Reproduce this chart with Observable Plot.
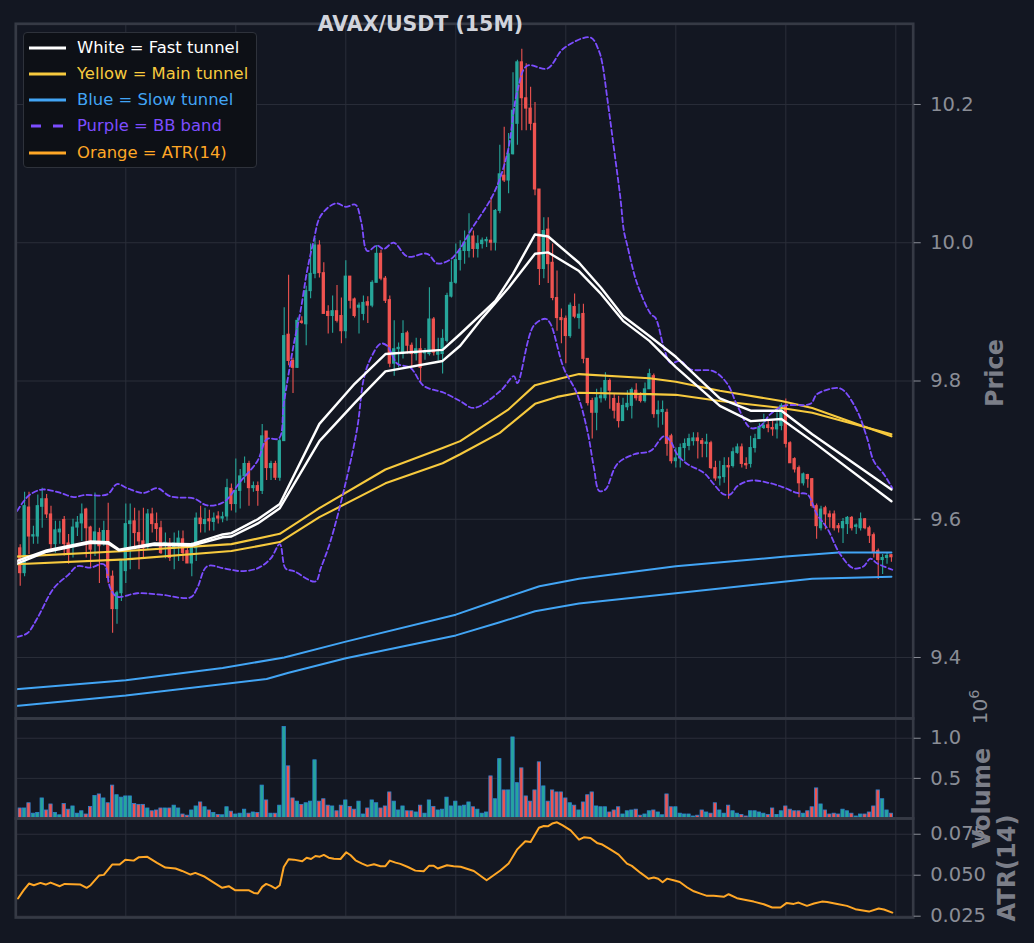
<!DOCTYPE html>
<html>
<head>
<meta charset="utf-8">
<script src="https://cdn.jsdelivr.net/npm/d3@7"></script>
<script src="https://cdn.jsdelivr.net/npm/@observablehq/plot@0.6"></script>
<style>
  html, body { margin: 0; padding: 0; background: #131722; }
  #wrap { position: relative; width: 1034px; height: 943px; background: #131722; overflow: hidden; font-family: "DejaVu Sans", sans-serif; }
  .ov { position: absolute; white-space: nowrap; }
  .rot { transform: translate(-50%, -50%) rotate(-90deg); }
  .ylab { font-weight: bold; font-size: 24px; color: #7b7e88; }
  #title { left: 420.5px; top: 24px; transform: translate(-50%, -50%); font-weight: bold; font-size: 20.5px; color: #d1d4dc; }
  #legend { left: 23px; top: 32px; width: 234px; height: 136px; background: #0d1016; border: 1px solid #2e323b; border-radius: 4px; box-sizing: border-box; }
  .lrow { position: absolute; left: 0; height: 20px; font-size: 16.4px; line-height: 20px; }
  .lrow svg { position: absolute; left: 4px; top: 4px; }
  .lrow span { position: absolute; left: 53px; top: 0; white-space: nowrap; }
</style>
</head>
<body>
<div id="wrap"></div>
<script>
// ---------- data ----------
// candles k = 1..199 (15-minute bars)
const openP = [9.558,9.522,9.617,9.575,9.575,9.618,9.629,9.607,9.564,9.581,
9.599,9.565,9.564,9.588,9.594,9.614,9.588,9.568,9.580,9.568,
9.583,9.517,9.470,9.493,9.525,9.593,9.597,9.580,9.568,9.561,
9.607,9.593,9.587,9.564,9.564,9.557,9.565,9.571,9.554,9.536,
9.558,9.601,9.593,9.600,9.596,9.604,9.601,9.604,9.644,9.622,
9.641,9.662,9.680,9.645,9.648,9.641,9.727,9.674,9.680,9.660,
9.713,9.867,9.829,9.819,9.886,9.882,9.930,9.955,9.996,9.956,
9.900,9.894,9.901,9.894,9.872,9.951,9.918,9.906,9.897,9.914,
9.909,9.942,9.984,9.948,9.917,9.825,9.846,9.839,9.869,9.851,
9.839,9.846,9.840,9.839,9.889,9.838,9.839,9.858,9.922,9.942,
9.975,9.988,9.988,10.009,9.991,9.998,10.002,10.003,10.000,10.046,
10.097,10.090,10.128,10.172,10.261,10.209,10.194,10.172,10.077,9.962,
10.019,9.971,9.920,9.891,9.890,9.865,9.907,9.891,9.897,9.832,
9.771,9.754,9.775,9.775,9.800,9.774,9.767,9.742,9.762,9.764,
9.786,9.778,9.771,9.788,9.807,9.752,9.755,9.754,9.720,9.684,
9.688,9.703,9.706,9.713,9.717,9.713,9.709,9.710,9.674,9.659,
9.661,9.677,9.677,9.696,9.704,9.680,9.680,9.703,9.716,9.732,
9.736,9.732,9.730,9.735,9.764,9.710,9.687,9.674,9.652,9.664,
9.658,9.619,9.587,9.616,9.607,9.607,9.590,9.587,9.593,9.602,
9.589,9.587,9.600,9.587,9.577,9.554,9.541,9.544,9.548];
const highP = [9.563,9.639,9.639,9.590,9.635,9.645,9.636,9.619,9.597,9.597,
9.604,9.578,9.600,9.604,9.622,9.616,9.590,9.638,9.587,9.597,
9.623,9.525,9.496,9.541,9.622,9.622,9.616,9.612,9.616,9.614,
9.616,9.609,9.597,9.580,9.572,9.580,9.583,9.583,9.561,9.566,
9.609,9.619,9.616,9.613,9.609,9.611,9.610,9.658,9.651,9.687,
9.672,9.690,9.684,9.654,9.654,9.737,9.727,9.684,9.684,9.716,
9.906,9.953,9.833,9.891,9.893,9.937,9.998,10.006,10.003,9.971,
9.909,9.923,9.938,9.920,9.974,9.951,9.920,9.913,9.923,9.922,
9.945,9.996,9.989,9.951,9.923,9.887,9.855,9.887,9.872,9.855,
9.862,9.861,9.847,9.935,9.892,9.862,9.874,9.927,9.974,9.998,
10.003,10.017,10.042,10.017,10.010,10.007,10.008,10.065,10.048,10.141,
10.167,10.158,10.246,10.264,10.280,10.259,10.225,10.203,10.077,10.036,
10.036,9.998,9.959,9.904,9.894,9.913,9.926,9.911,9.911,9.832,
9.775,9.788,9.790,9.812,9.803,9.781,9.778,9.775,9.786,9.790,
9.796,9.783,9.797,9.817,9.810,9.771,9.771,9.759,9.723,9.703,
9.709,9.716,9.723,9.725,9.725,9.717,9.723,9.713,9.684,9.684,
9.689,9.689,9.703,9.709,9.709,9.689,9.720,9.723,9.738,9.752,
9.742,9.742,9.754,9.767,9.774,9.712,9.689,9.677,9.667,9.665,
9.659,9.622,9.619,9.619,9.612,9.612,9.594,9.601,9.604,9.604,
9.593,9.609,9.601,9.590,9.580,9.557,9.549,9.551,9.549];
const lowP = [9.503,9.517,9.549,9.564,9.564,9.587,9.601,9.556,9.551,9.564,
9.547,9.535,9.544,9.575,9.568,9.544,9.529,9.546,9.507,9.561,
9.507,9.435,9.448,9.481,9.507,9.527,9.556,9.527,9.542,9.556,
9.580,9.568,9.549,9.543,9.539,9.527,9.539,9.539,9.536,9.517,
9.539,9.580,9.580,9.583,9.583,9.593,9.595,9.597,9.612,9.609,
9.615,9.652,9.619,9.639,9.619,9.636,9.656,9.656,9.656,9.655,
9.713,9.822,9.782,9.818,9.882,9.851,9.919,9.948,9.949,9.897,
9.868,9.869,9.884,9.854,9.861,9.904,9.891,9.868,9.887,9.883,
9.906,9.942,9.945,9.912,9.819,9.807,9.819,9.832,9.839,9.819,
9.829,9.797,9.830,9.836,9.836,9.829,9.810,9.855,9.920,9.940,
9.959,9.969,9.978,9.978,9.978,9.991,9.993,9.988,9.988,10.042,
10.087,10.071,10.127,10.141,10.162,10.162,10.162,10.068,9.938,9.948,
9.941,9.916,9.872,9.854,9.825,9.862,9.890,9.875,9.825,9.764,
9.716,9.728,9.768,9.771,9.759,9.745,9.732,9.742,9.757,9.745,
9.771,9.768,9.768,9.788,9.746,9.732,9.736,9.691,9.680,9.674,
9.674,9.684,9.699,9.706,9.687,9.689,9.689,9.672,9.655,9.648,
9.652,9.629,9.674,9.694,9.674,9.672,9.674,9.696,9.716,9.730,
9.725,9.720,9.716,9.728,9.703,9.681,9.667,9.631,9.648,9.645,
9.616,9.571,9.583,9.585,9.587,9.583,9.580,9.565,9.578,9.583,
9.578,9.583,9.585,9.565,9.544,9.513,9.520,9.535,9.538];
const closeP = [9.522,9.619,9.575,9.577,9.619,9.629,9.607,9.564,9.584,9.585,
9.564,9.551,9.588,9.595,9.607,9.587,9.556,9.581,9.561,9.583,
9.515,9.470,9.493,9.539,9.593,9.597,9.580,9.568,9.558,9.607,
9.593,9.586,9.551,9.566,9.544,9.565,9.572,9.551,9.536,9.564,
9.601,9.593,9.599,9.597,9.601,9.601,9.603,9.645,9.622,9.641,
9.662,9.680,9.645,9.648,9.641,9.720,9.674,9.680,9.660,9.713,
9.865,9.829,9.819,9.887,9.884,9.930,9.955,9.996,9.956,9.897,
9.894,9.901,9.887,9.872,9.951,9.916,9.894,9.909,9.913,9.909,
9.942,9.984,9.948,9.916,9.825,9.846,9.848,9.868,9.851,9.839,
9.846,9.819,9.843,9.889,9.841,9.841,9.861,9.923,9.942,9.975,
9.988,10.000,10.009,9.991,9.998,10.003,10.004,10.000,10.046,10.099,
10.090,10.128,10.191,10.261,10.209,10.194,10.172,10.077,9.962,10.017,
9.969,9.920,9.891,9.888,9.865,9.909,9.893,9.896,9.832,9.768,
9.754,9.775,9.778,9.800,9.786,9.757,9.742,9.764,9.767,9.787,
9.775,9.771,9.788,9.810,9.752,9.757,9.758,9.709,9.684,9.688,
9.703,9.709,9.716,9.717,9.713,9.709,9.711,9.674,9.659,9.661,
9.677,9.675,9.697,9.704,9.680,9.678,9.703,9.716,9.733,9.735,
9.732,9.730,9.737,9.764,9.709,9.681,9.672,9.652,9.665,9.658,
9.619,9.590,9.614,9.607,9.603,9.587,9.587,9.596,9.602,9.587,
9.591,9.600,9.587,9.576,9.551,9.541,9.544,9.547,9.545];
// volume in millions
const volume = [0.125,0.125,0.19,0.06,0.07,0.25,0.10,0.175,0.07,0.04,
0.18,0.11,0.15,0.06,0.09,0.05,0.145,0.28,0.30,0.25,
0.19,0.41,0.29,0.26,0.275,0.275,0.18,0.17,0.17,0.125,
0.09,0.10,0.125,0.125,0.125,0.16,0.125,0.05,0.035,0.10,
0.15,0.20,0.14,0.10,0.07,0.045,0.04,0.14,0.085,0.05,
0.06,0.11,0.06,0.075,0.07,0.41,0.225,0.06,0.06,0.16,
1.14,0.65,0.25,0.21,0.17,0.19,0.21,0.725,0.21,0.24,
0.16,0.15,0.09,0.16,0.225,0.145,0.11,0.21,0.05,0.125,
0.225,0.19,0.125,0.15,0.325,0.21,0.10,0.15,0.09,0.09,
0.075,0.16,0.06,0.225,0.145,0.10,0.11,0.26,0.15,0.21,
0.15,0.16,0.20,0.14,0.11,0.06,0.075,0.525,0.24,0.74,
0.35,0.35,1.01,0.44,0.625,0.275,0.21,0.35,0.70,0.40,
0.21,0.35,0.325,0.325,0.25,0.19,0.16,0.10,0.20,0.29,
0.325,0.15,0.14,0.14,0.075,0.10,0.14,0.05,0.09,0.10,
0.11,0.035,0.05,0.09,0.10,0.075,0.04,0.30,0.14,0.14,
0.06,0.05,0.05,0.025,0.035,0.10,0.075,0.06,0.19,0.10,
0.06,0.16,0.09,0.06,0.045,0.025,0.09,0.09,0.075,0.06,
0.045,0.125,0.045,0.09,0.15,0.11,0.09,0.09,0.06,0.09,
0.14,0.375,0.175,0.10,0.05,0.06,0.05,0.11,0.09,0.06,
0.025,0.05,0.05,0.075,0.15,0.35,0.24,0.10,0.06];

// overlay lines: [bar index, price]
const fastUpper = [[0,9.539],[7,9.555],[17,9.568],[21,9.567],[23.5,9.556],[31.5,9.565],[40,9.564],[47,9.578],[49,9.580],[55,9.600],[60,9.622],[69,9.738],[77,9.796],[84,9.839],[97,9.845],[101,9.868],[109,9.916],[113,9.955],[118,10.012],[121,10.009],[128,9.971],[133,9.935],[138,9.894],[144,9.865],[150,9.835],[160,9.775],[167,9.757],[174,9.757],[181,9.723],[199,9.643]];
const fastLower = [[0,9.535],[7,9.553],[17,9.566],[21,9.565],[23.5,9.555],[31.5,9.563],[40,9.562],[47,9.574],[49,9.575],[55,9.594],[60,9.616],[69,9.713],[77,9.768],[84,9.814],[97,9.829],[101,9.851],[106,9.891],[112,9.935],[118,9.984],[121,9.986],[128,9.959],[133,9.926],[138,9.887],[144,9.858],[150,9.820],[160,9.764],[167,9.742],[174,9.745],[181,9.713],[199,9.626]];
const mainUpper = [[0,9.546],[25,9.554],[49,9.564],[60,9.579],[69,9.616],[84,9.672],[97,9.703],[101,9.713],[112,9.759],[118,9.794],[124,9.804],[128,9.810],[144,9.804],[150,9.799],[160,9.786],[174,9.771],[181,9.761],[199,9.720]];
const mainLower = [[0,9.535],[25,9.542],[49,9.554],[60,9.567],[69,9.603],[84,9.652],[97,9.681],[101,9.694],[110,9.725],[118,9.767],[123,9.777],[128,9.783],[144,9.781],[150,9.780],[160,9.771],[174,9.761],[181,9.754],[199,9.723]];
const slowUpper = [[0,9.354],[25,9.367],[47,9.385],[61,9.400],[75,9.423],[100,9.462],[110,9.484],[119,9.503],[128,9.514],[150,9.532],[175,9.546],[187,9.552],[199,9.552]];
const slowLower = [[0,9.330],[25,9.345],[57,9.369],[62,9.378],[75,9.399],[100,9.432],[110,9.451],[118,9.467],[128,9.478],[150,9.493],[175,9.510],[181,9.514],[199,9.517]];
const bbUpper = [[0.3,9.612],[1.8,9.626],[3.3,9.636],[6,9.643],[10.2,9.638],[13.2,9.632],[15.5,9.635],[20.8,9.636],[23,9.651],[25.3,9.645],[29.1,9.638],[32.1,9.645],[35.2,9.633],[40.5,9.630],[43.5,9.620],[47.3,9.625],[51.1,9.655],[54.9,9.684],[57.1,9.716],[59.8,9.717],[60.9,9.767],[63.2,9.854],[64.7,9.901],[66.2,9.959],[67.7,10.003],[69.3,10.039],[72.7,10.057],[75,10.052],[77.2,10.055],[78.5,10.030],[79.9,9.988],[82.1,9.996],[83.6,9.991],[85.9,10.000],[89,9.980],[93.5,9.984],[95.8,9.970],[98.8,9.976],[101.1,9.993],[103.3,10.017],[108.6,10.071],[111.7,10.129],[114,10.220],[116.2,10.256],[120.8,10.252],[124.5,10.281],[130.6,10.297],[132.5,10.278],[133.3,10.259],[134.4,10.210],[135.9,10.138],[137.4,10.065],[138.2,10.017],[138.9,9.998],[141.2,9.941],[144.3,9.897],[145.4,9.891],[147.3,9.848],[148.8,9.826],[151,9.829],[153.3,9.817],[158.6,9.814],[161.7,9.796],[164,9.764],[167,9.732],[169.2,9.735],[171.5,9.752],[174.5,9.764],[180.6,9.767],[182.1,9.781],[186.7,9.790],[188.2,9.786],[191.2,9.757],[193.5,9.717],[195,9.684],[197.3,9.665],[199.2,9.645]];
const bbLower = [[0.3,9.430],[2.6,9.435],[4.9,9.457],[8.6,9.500],[12,9.520],[14,9.532],[17,9.530],[20,9.535],[21.5,9.500],[23,9.488],[27.6,9.493],[32.9,9.491],[39.7,9.487],[41.2,9.500],[43.5,9.532],[47.3,9.529],[51.1,9.525],[54.9,9.529],[57.9,9.543],[60,9.564],[61.3,9.529],[63.2,9.525],[68.1,9.510],[69.3,9.529],[71.5,9.568],[74.9,9.651],[77.6,9.732],[79.1,9.804],[80.6,9.832],[82.9,9.854],[84.4,9.851],[86.7,9.825],[89.7,9.819],[92.7,9.793],[97.3,9.783],[101,9.771],[104.1,9.761],[110.2,9.786],[113.2,9.807],[114,9.797],[117.7,9.880],[120.4,9.890],[121.5,9.883],[124.5,9.819],[127.6,9.781],[129.9,9.728],[131.4,9.674],[132.6,9.641],[134,9.643],[136.7,9.680],[140.5,9.694],[144.3,9.699],[147.3,9.720],[148.8,9.713],[150.3,9.694],[152.6,9.680],[156.4,9.667],[158.6,9.651],[160.9,9.636],[162.4,9.636],[164,9.648],[167,9.656],[171.5,9.652],[174.5,9.646],[177.6,9.638],[179.9,9.636],[182.1,9.607],[184.4,9.587],[187.4,9.549],[190.4,9.529],[192.7,9.532],[194.2,9.543],[195.8,9.536],[199.2,9.527]];
// ATR(14): [bar index, value]
const atr = [[0.5,0.0358],[1.8,0.0409],[3,0.0449],[4.1,0.0439],[5.6,0.0453],[6.8,0.0443],[7.9,0.0455],[10,0.0433],[11.1,0.0447],[14.7,0.0443],[16.1,0.0423],[17,0.0439],[18.9,0.0498],[20,0.0502],[21.9,0.0565],[23.6,0.0565],[24.9,0.0595],[26.8,0.0589],[28,0.0610],[29.9,0.0612],[32.1,0.0575],[34,0.0547],[36.3,0.0541],[37.8,0.0526],[39.7,0.0504],[40.8,0.0514],[42.7,0.0494],[45,0.0455],[46.9,0.0423],[48.4,0.0433],[49.9,0.0408],[53,0.0408],[54.1,0.0392],[55,0.0388],[56,0.0429],[56.9,0.0447],[58,0.0435],[59,0.0419],[60,0.0439],[60.9,0.0550],[62,0.0597],[63.2,0.0595],[65.1,0.0585],[66.1,0.0607],[67.1,0.0599],[68.1,0.0617],[69.1,0.0613],[70,0.0624],[71.1,0.0607],[72.3,0.0601],[73.8,0.0599],[75.1,0.0640],[76.1,0.0622],[77.2,0.0591],[78.7,0.0571],[79.9,0.0557],[81.4,0.0567],[82.9,0.0555],[84,0.0555],[85,0.0589],[86.3,0.0577],[87.4,0.0569],[89.1,0.0550],[90.8,0.0528],[92.7,0.0524],[93.9,0.0557],[95,0.0557],[95.9,0.0541],[98,0.0561],[99.5,0.0555],[101.1,0.0552],[104.1,0.0526],[107,0.0469],[108.6,0.0500],[110.2,0.0530],[112,0.0571],[113.9,0.0656],[115.8,0.0707],[117,0.0703],[118.9,0.0790],[120,0.0800],[120.9,0.0798],[121.9,0.0815],[123,0.0823],[124.2,0.0805],[126.1,0.0774],[128,0.0717],[129.1,0.0731],[130.6,0.0727],[132.1,0.0697],[133.3,0.0687],[135.2,0.0656],[137,0.0626],[138.9,0.0571],[140,0.0557],[142,0.0514],[143.8,0.0478],[145,0.0486],[146,0.0478],[147,0.0457],[148,0.0479],[149.5,0.0469],[150.9,0.0459],[152.6,0.0425],[154.1,0.0402],[155.6,0.0388],[157.1,0.0374],[158.6,0.0374],[160.9,0.0368],[162,0.0384],[163.9,0.0360],[166.2,0.0347],[167.7,0.0339],[170,0.0323],[171.9,0.0303],[173.8,0.0303],[175.2,0.0331],[176.8,0.0325],[177.9,0.0333],[179.8,0.0313],[181.4,0.0327],[183.2,0.0339],[184.4,0.0337],[186.7,0.0325],[188.9,0.0313],[190.8,0.0293],[193.9,0.0278],[196.1,0.0297],[197.3,0.0291],[199.2,0.0272]];

// axis ticks
const timeGrid = [25, 50, 75, 100, 125, 150, 175, 200];
const priceTicks = [9.4, 9.6, 9.8, 10.0, 10.2];
const volumeTicks = [0.5, 1.0];
const atrTicks = [0.025, 0.050, 0.075];

// ---------- build ----------
const C = {
  bg: "#131722", grid: "#2a2e39", frame: "#363a45", tick: "#8a8d96",
  teal: "#26a69a", red: "#ef5350", white: "#ffffff", yellow: "#f7ca3e",
  blue: "#42a5f5", purple: "#7c4dff", orange: "#ffa726", volEdge: "#2d82cf"
};
const candles = openP.map((o, i) => ({
  k: i + 1, open: o, high: highP[i], low: lowP[i], close: closeP[i], vol: volume[i], up: closeP[i] >= o
}));

const W = 1034, H = 943, ML = 15.3, MR = 121.3;
const xScale = {domain: [0, 203.95], axis: null};
const svgStyle = {position: "absolute", left: "0px", top: "0px", background: "transparent", overflow: "visible", color: C.tick, fontFamily: "DejaVu Sans, sans-serif"};
const half = 0.375;
const px = d => d[0], py = d => d[1];

function axis(ticks, fmt) {
  return Plot.axisY(ticks, {anchor: "right", tickSize: 7, tickPadding: 10, tickFormat: d3.format(fmt),
    fontSize: 19.5, fontFamily: "DejaVu Sans", color: C.tick, label: null});
}

const mainPlot = Plot.plot({
  width: W, height: H, marginLeft: ML, marginRight: MR, marginTop: 23.3, marginBottom: H - 718,
  x: xScale, y: {domain: [9.3118, 10.3167], axis: null},
  style: svgStyle,
  marks: [
    Plot.gridX(timeGrid, {stroke: C.grid, strokeOpacity: 1, strokeWidth: 1}),
    Plot.gridY(priceTicks, {stroke: C.grid, strokeOpacity: 1, strokeWidth: 1}),
    Plot.ruleX(candles, {filter: d => d.up, x: "k", y1: "low", y2: "high", stroke: C.teal, strokeWidth: 1.1, clip: true}),
    Plot.ruleX(candles, {filter: d => !d.up, x: "k", y1: "low", y2: "high", stroke: C.red, strokeWidth: 1.1, clip: true}),
    Plot.rect(candles, {filter: d => d.up, x1: d => d.k - half, x2: d => d.k + half, y1: "open", y2: "close", fill: C.teal, insetTop: -0.5, insetBottom: -0.5, clip: true}),
    Plot.rect(candles, {filter: d => !d.up, x1: d => d.k - half, x2: d => d.k + half, y1: "open", y2: "close", fill: C.red, insetTop: -0.5, insetBottom: -0.5, clip: true}),
    Plot.line(slowUpper, {x: px, y: py, stroke: C.blue, strokeWidth: 2, clip: true}),
    Plot.line(slowLower, {x: px, y: py, stroke: C.blue, strokeWidth: 2, clip: true}),
    Plot.line(mainUpper, {x: px, y: py, stroke: C.yellow, strokeWidth: 2.1, clip: true}),
    Plot.line(mainLower, {x: px, y: py, stroke: C.yellow, strokeWidth: 2.1, clip: true}),
    Plot.line(bbUpper, {x: px, y: py, stroke: C.purple, strokeWidth: 1.8, strokeDasharray: "5,3", curve: "catmull-rom", clip: true}),
    Plot.line(bbLower, {x: px, y: py, stroke: C.purple, strokeWidth: 1.8, strokeDasharray: "5,3", curve: "catmull-rom", clip: true}),
    Plot.line(fastUpper, {x: px, y: py, stroke: C.white, strokeWidth: 2.4, clip: true}),
    Plot.line(fastLower, {x: px, y: py, stroke: C.white, strokeWidth: 2.4, clip: true}),
    Plot.frame({stroke: C.frame, strokeWidth: 2.7}),
    axis(priceTicks, ".1f")
  ]
});

const volPlot = Plot.plot({
  width: W, height: H, marginLeft: ML, marginRight: MR, marginTop: 718, marginBottom: H - 818,
  x: xScale, y: {domain: [0, 1.246], axis: null},
  style: svgStyle,
  marks: [
    Plot.gridX(timeGrid, {stroke: C.grid, strokeOpacity: 1, strokeWidth: 1}),
    Plot.gridY(volumeTicks, {stroke: C.grid, strokeOpacity: 1, strokeWidth: 1}),
    Plot.rect(candles, {filter: d => d.up, x1: d => d.k - half, x2: d => d.k + half, y1: 0, y2: "vol", fill: C.teal, stroke: C.volEdge, strokeWidth: 0.8, clip: true}),
    Plot.rect(candles, {filter: d => !d.up, x1: d => d.k - half, x2: d => d.k + half, y1: 0, y2: "vol", fill: C.red, stroke: C.volEdge, strokeWidth: 0.8, clip: true}),
    Plot.frame({stroke: C.frame, strokeWidth: 2.7}),
    axis(volumeTicks, ".1f")
  ]
});

const atrPlot = Plot.plot({
  width: W, height: H, marginLeft: ML, marginRight: MR, marginTop: 818, marginBottom: H - 917,
  x: xScale, y: {domain: [0.0242, 0.0846], axis: null},
  style: svgStyle,
  marks: [
    Plot.gridX(timeGrid, {stroke: C.grid, strokeOpacity: 1, strokeWidth: 1}),
    Plot.gridY(atrTicks, {stroke: C.grid, strokeOpacity: 1, strokeWidth: 1}),
    Plot.line(atr, {x: px, y: py, stroke: C.orange, strokeWidth: 2, clip: true}),
    Plot.frame({stroke: C.frame, strokeWidth: 2.7}),
    axis(atrTicks, ".3f")
  ]
});

const wrap = document.getElementById("wrap");
wrap.append(mainPlot, volPlot, atrPlot);

// ---------- text overlays ----------
function ov(html, cls, css) {
  const d = document.createElement("div");
  d.className = "ov " + cls;
  d.innerHTML = html;
  Object.assign(d.style, css || {});
  wrap.append(d);
  return d;
}
ov("AVAX/USDT (15M)", "", {}).id = "title";
ov("Price", "rot ylab", {left: "995px", top: "373px"});
ov("Volume", "rot ylab", {left: "982px", top: "798px"});
ov("ATR(14)", "rot ylab", {left: "1007px", top: "868px"});
ov("10<sup style='font-size:72%;vertical-align:0.6em'>6</sup>", "rot", {left: "979px", top: "707px", fontSize: "20px", color: C.tick});

const legendItems = [
  {label: "White = Fast tunnel", color: C.white, dash: null},
  {label: "Yellow = Main tunnel", color: C.yellow, dash: null},
  {label: "Blue = Slow tunnel", color: C.blue, dash: null},
  {label: "Purple = BB band", color: C.purple, dash: "10,12"},
  {label: "Orange = ATR(14)", color: C.orange, dash: null}
];
const leg = ov("", "", {});
leg.id = "legend";
legendItems.forEach((it, i) => {
  const row = document.createElement("div");
  row.className = "lrow";
  row.style.top = (4.7 + i * 26.25) + "px";
  row.style.width = "232px";
  row.innerHTML = `<svg width="40" height="12"><line x1="1" y1="6" x2="38" y2="6" stroke="${it.color}" stroke-width="3.2" ${it.dash ? `stroke-dasharray="${it.dash}" stroke-dashoffset="-2"` : ""}/></svg><span style="color:${it.color}">${it.label}</span>`;
  leg.append(row);
});
</script>
</body>
</html>
